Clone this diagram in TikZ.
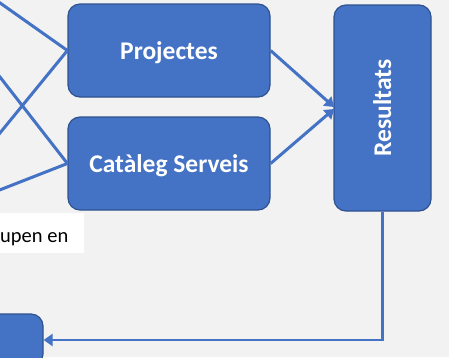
\documentclass[tikz,border=0pt]{standalone}
\usepackage{fontspec}
\setmainfont{Carlito}
\usetikzlibrary{arrows.meta}
\definecolor{bg}{HTML}{F2F2F2}
\definecolor{boxblue}{HTML}{4472C4}
\definecolor{boxedge}{HTML}{2F528F}
\begin{document}
\begin{tikzpicture}[x=1pt,y=-1pt,
  box/.style={draw=boxedge, line width=1.2pt, fill=boxblue, rounded corners=12pt, inner sep=0pt},
  lbl/.style={text=white, font=\bfseries\fontsize{25.5}{30}\selectfont},
  conn/.style={draw=boxblue, line width=3pt},
  tip/.style={-{Triangle[length=9pt,width=12pt]}}]
\useasboundingbox (0,0) rectangle (449,357);
\clip (0,0) rectangle (449,357);
\fill[bg] (0,0) rectangle (449,357);
% boxes
\node[box, minimum width=202pt, minimum height=93pt] (proj) at (169,50.5) {};
\node[box, minimum width=202pt, minimum height=93pt] (cat) at (169,163.5) {};
\node[box, minimum width=97pt, minimum height=206pt] (res) at (382.5,108) {};
\node[box, minimum width=63pt, minimum height=52pt] (bl) at (11.5,340) {};
\node[lbl, anchor=base] (projt) at (169,59) {Projectes};
\node[lbl, anchor=base] (catt) at (169,172) {Catàleg Serveis};
\node[lbl, anchor=base, rotate=90] (rest) at (391,108) {Resultats};
% note
\node[fill=white, inner sep=0pt, minimum width=84pt, minimum height=40pt, anchor=north west] (note) at (0,213) {};
\node[anchor=base west, inner sep=0pt, font=\fontsize{20.5}{24}\selectfont] (notet) at (0,242) {upen en};
% free ends on the left
\coordinate (a1) at (-3,0.8);
\coordinate (a2) at (-3,73.2);
\coordinate (a3) at (-3,136.6);
\coordinate (a4) at (-3,191);
\draw[conn] (a1) -- (proj.west);
\draw[conn] (a3) -- (proj.west);
\draw[conn] (a2) -- (cat.west);
\draw[conn] (a4) -- (cat.west);
% into Resultats
\coordinate (r1) at (334,107);
\coordinate (r2) at (334,109);
\draw[conn, tip] (proj.east) -- (r1);
\draw[conn, tip] (cat.east) -- (r2);
% back to the bottom-left box
\draw[conn, line width=2.6pt, tip] (res.south) |- (bl.east);
\end{tikzpicture}
\end{document}
